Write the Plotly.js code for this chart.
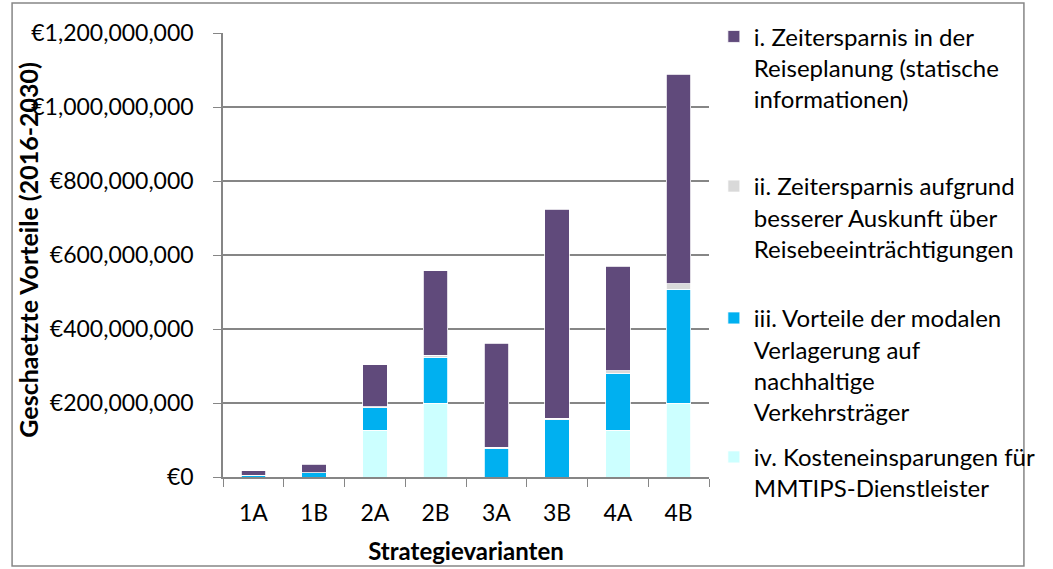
<!DOCTYPE html>
<html>
<head>
<meta charset="utf-8">
<script src="https://cdn.plot.ly/plotly-3.0.1.min.js"></script>
<style>html,body{margin:0;padding:0;background:#fff;}#chart{width:1053px;height:569px;}</style>
</head>
<body>
<div id="chart"></div>
<script>
const categories = ['1A', '1B', '2A', '2B', '3A', '3B', '4A', '4B'];
const seriesNames = [
  'i. Zeitersparnis in der<br>Reiseplanung (statische<br>informationen)',
  'ii. Zeitersparnis aufgrund<br>besserer Auskunft über<br>Reisebeeinträchtigungen',
  'iii. Vorteile der modalen<br>Verlagerung auf<br>nachhaltige<br>Verkehrsträger',
  'iv. Kosteneinsparungen für<br>MMTIPS-Dienstleister'
];
const zeitReiseplanung = [12000000, 22000000, 113000000, 228000000, 282000000, 565000000, 282000000, 566000000];
const zeitAuskunft     = [0, 0, 3000000, 5000000, 4000000, 4000000, 6000000, 14000000];
const modaleVerlagerung = [5000000, 12000000, 61000000, 124000000, 76000000, 155000000, 154000000, 308000000];
const kostenEinsparung = [0, 0, 126000000, 200000000, 0, 0, 127000000, 200000000];
const yTickVals = [0, 200000000, 400000000, 600000000, 800000000, 1000000000, 1200000000];
const yTickText = ['€0', '€200,000,000', '€400,000,000', '€600,000,000', '€800,000,000', '€1,000,000,000', '€1,200,000,000'];

const FONT = 'Lato, "Open Sans", sans-serif';
const colors = ['#604A7B', '#D9D9D9', '#00B0F0', '#CCFFFF'];

function bar(y, i, legendId) {
  return {
    type: 'bar', x: categories, y: y, name: seriesNames[i],
    marker: {color: colors[i], line: {color: '#ffffff', width: 0.8}},
    legend: legendId, hoverinfo: 'x+y+name'
  };
}

const traces = [
  bar(kostenEinsparung, 3, 'legend4'),
  bar(modaleVerlagerung, 2, 'legend3'),
  bar(zeitAuskunft, 1, 'legend2'),
  bar(zeitReiseplanung, 0, 'legend')
];

function leg(y) {
  return {x: 1.01, xanchor: 'left', y: y, yanchor: 'top', valign: 'top',
          font: {family: FONT, size: 24, color: '#000'}, bgcolor: 'rgba(0,0,0,0)',
          itemwidth: 30, itemclick: false, itemdoubleclick: false};
}

const layout = {
  width: 1053, height: 569,
  margin: {l: 223, r: 330, t: 33, b: 92},
  paper_bgcolor: '#ffffff', plot_bgcolor: '#ffffff',
  barmode: 'stack', bargap: 0.6,
  font: {family: FONT, size: 23, color: '#000'},
  showlegend: true,
  legend: leg(1.042),
  legend2: leg(0.705),
  legend3: leg(0.408),
  legend4: leg(0.095),
  xaxis: {
    type: 'category', tickson: 'boundaries', ticks: 'outside', ticklen: 8,
    tickcolor: '#868686', showline: true, linecolor: '#868686', linewidth: 1.5,
    showgrid: false, tickfont: {family: FONT, size: 23, color: '#000'}, ticklabelstandoff: 15,
    title: {text: '<b>Strategievarianten</b>', font: {family: FONT, size: 24, color: '#000'}, standoff: 18},
    automargin: false, fixedrange: true
  },
  yaxis: {
    range: [0, 1200000000], tickvals: yTickVals, ticktext: yTickText,
    ticks: 'outside', ticklen: 8, tickcolor: '#868686',
    showline: true, linecolor: '#868686', linewidth: 1.5,
    showgrid: true, gridcolor: '#868686', gridwidth: 1.5, zeroline: false,
    tickfont: {family: FONT, size: 23, color: '#000'}, ticklabelstandoff: 15,
    automargin: false, fixedrange: true
  },
  annotations: [{
    text: '<b>Geschaetzte Vorteile (2016-2030)</b>', textangle: -90,
    xref: 'paper', yref: 'paper', x: (22 - 223) / 500, y: (477 - 250) / 444,
    xanchor: 'center', yanchor: 'middle', showarrow: false,
    font: {family: FONT, size: 25, color: '#000'}
  }],
  shapes: [{
    type: 'rect', xref: 'paper', yref: 'paper',
    x0: (6 - 223) / 500, x1: (1047 - 223) / 500,
    y0: (477 - 566) / 444, y1: (477 - 3) / 444,
    line: {color: '#868686', width: 1.5}, fillcolor: 'rgba(0,0,0,0)', layer: 'below'
  }]
};

Plotly.newPlot('chart', traces, layout, {displayModeBar: false, staticPlot: false});
</script>
</body>
</html>
